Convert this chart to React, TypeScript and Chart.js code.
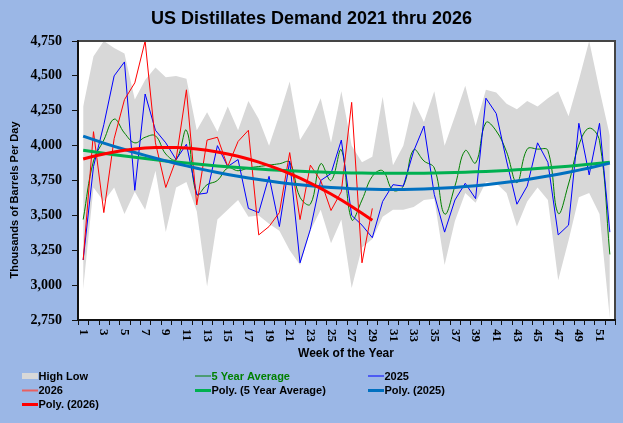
import React, { useEffect, useRef } from 'react';
import { Chart, registerables } from 'chart.js';

Chart.register(...registerables);

// Weeks of the year (category axis)
const WEEKS = [
  '1', '2', '3', '4', '5', '6', '7', '8', '9', '10', '11', '12', '13',
  '14', '15', '16', '17', '18', '19', '20', '21', '22', '23', '24', '25', '26',
  '27', '28', '29', '30', '31', '32', '33', '34', '35', '36', '37', '38', '39',
  '40', '41', '42', '43', '44', '45', '46', '47', '48', '49', '50', '51', '52',
];

// Labels shown under the axis (every other week)
const WEEK_TICK_LABELS = [
  '1', '3', '5', '7', '9', '11', '13', '15', '17', '19', '21', '23', '25',
  '27', '29', '31', '33', '35', '37', '39', '41', '43', '45', '47', '49', '51',
];

// Five-year range, thousands of barrels per day
const HIGH = [
  4280, 4640, 4750, 4700, 4660, 4330, 4470, 4560, 4490, 4500, 4480, 4110, 4240,
  4100, 4280, 4110, 4320, 4190, 4000, 4220, 4460, 4040, 4160, 4340, 4020, 4390,
  4000, 3880, 3920, 4350, 3860, 4000, 4320, 4170, 4390, 4000, 4210, 4430, 4140,
  4400, 4380, 4300, 4260, 4320, 4280, 4340, 4390, 4210, 4470, 4750, 4400, 4070,
];

const LOW = [
  2970, 3700, 3600, 3700, 3510, 3670, 3540, 3820, 3380, 3700, 3740, 3530, 2990,
  3470, 3540, 3610, 3490, 3500, 3440, 3390, 3250, 3145, 3390, 3540, 3300, 3470,
  2980, 3270, 3330, 3490, 3540, 3540, 3560, 3610, 3620, 3145, 3460, 3660, 3590,
  3740, 3730, 3660, 3420, 3600, 3700, 3610, 3035, 3320, 3630, 3660, 3510, 2760,
];

const AVG_5YR = [
  3470, 3890, 4040, 4190, 4090, 4020, 4060, 4070, 3940, 3900, 4110, 3650, 3720,
  3750, 3840, 3820, 3840, 3850, 3860, 3870, 3880, 3630, 3580, 3870, 3750, 3970,
  3470, 3610, 3780, 3820, 3680, 3710, 3970, 3890, 3840, 3510, 3710, 3965, 3875,
  4165, 4105, 3955, 3735, 3975, 3975, 3965, 3515, 3725, 4005, 4125, 4035, 3220,
];

const Y2025 = [
  3180, 3850, 4150, 4500, 4600, 3680, 4370, 4110, 4020, 3900, 4010, 3650, 3660,
  4000, 3850, 3900, 3550, 3520, 3780, 3420, 3890, 3160, 3400, 3750, 3800, 4040,
  3500, 3430, 3340, 3600, 3720, 3710, 3960, 4140, 3650, 3380, 3610, 3730, 3620,
  4340, 4230, 3890, 3580, 3710, 4020, 3880, 3360, 3430, 4160, 3790, 4160, 3380,
];

const Y2026 = [
  3180, 4100, 3520, 4050, 4330, 4450, 4750, 4020, 3700, 3900, 4400, 3575, 4040,
  4060, 3850, 4030, 4110, 3360, 3420, 3520, 3950, 3470, 3860, 3750, 3535, 3670,
  4310, 3160, 3550,
];

const Y_TICKS = [2750, 3000, 3250, 3500, 3750, 4000, 4250, 4500, 4750];

const SANS = '"Liberation Sans", Arial, sans-serif';
const SERIF = '"Liberation Serif", "Times New Roman", serif';

const BG_BLUE = '#9BB7E6';
const BAND_GRAY = '#D8D8D8';

// Second-order least-squares trendline over week number (1-based)
function polyTrend(values: (number | null)[]): (number | null)[] {
  let s0 = 0, s1 = 0, s2 = 0, s3 = 0, s4 = 0, t0 = 0, t1 = 0, t2 = 0;
  values.forEach((v, i) => {
    if (v == null) return;
    const x = i + 1;
    const x2 = x * x;
    s0 += 1; s1 += x; s2 += x2; s3 += x2 * x; s4 += x2 * x2;
    t0 += v; t1 += x * v; t2 += x2 * v;
  });
  const m = [
    [s4, s3, s2, t2],
    [s3, s2, s1, t1],
    [s2, s1, s0, t0],
  ];
  for (let c = 0; c < 3; c++) {
    for (let r = c + 1; r < 3; r++) {
      const f = m[r][c] / m[c][c];
      for (let k = c; k < 4; k++) m[r][k] -= f * m[c][k];
    }
  }
  const coef = [0, 0, 0];
  for (let r = 2; r >= 0; r--) {
    let s = m[r][3];
    for (let k = r + 1; k < 3; k++) s -= m[r][k] * coef[k];
    coef[r] = s / m[r][r];
  }
  const [a, b, c] = coef;
  return values.map((v, i) => (v == null ? null : a * (i + 1) * (i + 1) + b * (i + 1) + c));
}

type LegendEntry = { label: string; kind: 'box' | 'line'; color: string; width: number; textColor: string };

const LEGEND: LegendEntry[] = [
  { label: 'High Low', kind: 'box', color: BAND_GRAY, width: 0, textColor: '#000' },
  { label: '5 Year Average', kind: 'line', color: '#008000', width: 1, textColor: '#008000' },
  { label: '2025', kind: 'line', color: '#0000FF', width: 1, textColor: '#000' },
  { label: '2026', kind: 'line', color: '#E86060', width: 2, textColor: '#000' },
  { label: 'Poly. (5 Year Average)', kind: 'line', color: '#00B050', width: 3, textColor: '#000' },
  { label: 'Poly. (2025)', kind: 'line', color: '#0070C0', width: 3, textColor: '#000' },
  { label: 'Poly. (2026)', kind: 'line', color: '#FF0000', width: 3, textColor: '#000' },
];

const LEGEND_COLS = [22, 195, 368];
const LEGEND_ROWS = [376, 390.5, 404.5];

const decorPlugin = {
  id: 'decor',
  beforeDraw(chart: Chart) {
    const { ctx, width, height, chartArea } = chart;
    ctx.save();
    ctx.fillStyle = BG_BLUE;
    ctx.fillRect(0, 0, width, height);
    ctx.fillStyle = '#FFFFFF';
    ctx.fillRect(chartArea.left, chartArea.top, chartArea.right - chartArea.left, chartArea.bottom - chartArea.top);
    ctx.restore();
  },
  afterDraw(chart: Chart) {
    const { ctx, chartArea } = chart;
    const { left, right, top, bottom } = chartArea;
    const xScale = chart.scales.x;
    ctx.save();

    // plot frame
    ctx.lineWidth = 2;
    ctx.strokeStyle = '#454545';
    ctx.beginPath();
    ctx.moveTo(left, top);
    ctx.lineTo(right, top);
    ctx.lineTo(right, bottom);
    ctx.stroke();
    ctx.strokeStyle = '#111111';
    ctx.beginPath();
    ctx.moveTo(left, top - 1);
    ctx.lineTo(left, bottom);
    ctx.lineTo(right + 1, bottom);
    ctx.stroke();

    // category tick marks on the week axis
    ctx.lineWidth = 1;
    ctx.strokeStyle = '#111111';
    const n = WEEKS.length;
    const step = (right - left) / n;
    ctx.beginPath();
    for (let i = 0; i <= n; i++) {
      const x = Math.round(left + i * step) + 0.5;
      ctx.moveTo(x, bottom);
      ctx.lineTo(x, bottom + 5);
    }
    ctx.stroke();

    // week labels, turned 90 degrees
    ctx.fillStyle = '#000';
    ctx.font = `bold 13px ${SERIF}`;
    ctx.textAlign = 'left';
    ctx.textBaseline = 'middle';
    WEEK_TICK_LABELS.forEach((lbl) => {
      const idx = WEEKS.indexOf(lbl);
      const x = xScale.getPixelForValue(idx);
      ctx.save();
      ctx.translate(x, bottom + 9);
      ctx.rotate(Math.PI / 2);
      ctx.fillText(lbl, 0, 0);
      ctx.restore();
    });

    // axis titles
    ctx.font = `bold 12px ${SANS}`;
    ctx.textAlign = 'center';
    ctx.textBaseline = 'middle';
    ctx.fillText('Week of the Year', 346, 354);

    ctx.save();
    ctx.translate(15, 200);
    ctx.rotate(-Math.PI / 2);
    ctx.font = `bold 11px ${SANS}`;
    ctx.fillText('Thousands of Barrels Per Day', 0, 0);
    ctx.restore();

    // chart title
    ctx.font = `bold 18px ${SANS}`;
    ctx.textBaseline = 'alphabetic';
    ctx.fillText('US Distillates Demand 2021 thru 2026', 311.5, 24);

    // legend, three columns
    ctx.font = `bold 11px ${SANS}`;
    ctx.textAlign = 'left';
    ctx.textBaseline = 'middle';
    LEGEND.forEach((item, i) => {
      const x = LEGEND_COLS[i % 3];
      const y = LEGEND_ROWS[Math.floor(i / 3)];
      if (item.kind === 'box') {
        ctx.fillStyle = item.color;
        ctx.fillRect(x, y - 3, 16, 6);
      } else {
        ctx.strokeStyle = item.color;
        ctx.lineWidth = item.width;
        ctx.beginPath();
        ctx.moveTo(x, y);
        ctx.lineTo(x + 16, y);
        ctx.stroke();
      }
      ctx.fillStyle = item.textColor;
      ctx.fillText(item.label, x + 16.5, y + 0.5);
    });

    ctx.restore();
  },
};

export default function App() {
  const canvasRef = useRef<HTMLCanvasElement | null>(null);

  useEffect(() => {
    const canvas = canvasRef.current;
    if (!canvas) return;
    const lineBase = { pointRadius: 0, pointHoverRadius: 0, fill: false, tension: 0 };
    const chart = new Chart(canvas, {
      type: 'line',
      data: {
        labels: WEEKS,
        datasets: [
          { ...lineBase, label: 'High Low', data: HIGH, borderWidth: 0, borderColor: 'rgba(0,0,0,0)', backgroundColor: BAND_GRAY, fill: '+1', order: 10 },
          { ...lineBase, label: 'Low', data: LOW, borderWidth: 0, borderColor: 'rgba(0,0,0,0)', order: 11 },
          { ...lineBase, label: '5 Year Average', data: AVG_5YR, borderColor: '#008000', borderWidth: 1, tension: 0.4, order: 6 },
          { ...lineBase, label: '2025', data: Y2025, borderColor: '#0000FF', borderWidth: 1, order: 5 },
          { ...lineBase, label: '2026', data: Y2026, borderColor: '#FF0000', borderWidth: 1, order: 4 },
          { ...lineBase, label: 'Poly. (5 Year Average)', data: polyTrend(AVG_5YR), borderColor: '#00B050', borderWidth: 3, order: 3 },
          { ...lineBase, label: 'Poly. (2025)', data: polyTrend(Y2025), borderColor: '#0070C0', borderWidth: 3, order: 2 },
          { ...lineBase, label: 'Poly. (2026)', data: polyTrend(Y2026), borderColor: '#FF0000', borderWidth: 3, order: 1 },
        ],
      },
      options: {
        responsive: false,
        animation: false,
        devicePixelRatio: 1,
        events: [],
        layout: { padding: { top: 41, right: 8, bottom: 0, left: 0 } },
        plugins: {
          legend: { display: false },
          title: { display: false },
          tooltip: { enabled: false },
        },
        scales: {
          x: {
            type: 'category',
            offset: true,
            grid: { display: false },
            border: { display: false },
            ticks: { display: false },
            afterFit: (s: any) => { s.height = 103; },
          },
          y: {
            min: 2750,
            max: 4750,
            afterBuildTicks: (s: any) => { s.ticks = Y_TICKS.map((v) => ({ value: v })); },
            ticks: {
              color: '#000',
              padding: 10,
              font: { family: SERIF, size: 14, weight: 'bold' },
              callback: (v: any) => Number(v).toLocaleString('en-US'),
            },
            grid: { drawOnChartArea: false, drawTicks: true, tickLength: 6, color: '#111', lineWidth: 1 },
            border: { display: false },
            afterFit: (s: any) => { s.width = 78; },
          },
        },
      },
      plugins: [decorPlugin],
    } as any);
    return () => chart.destroy();
  }, []);

  return (
    <div style={{ position: 'absolute', left: 0, top: 0, width: 623, height: 423, background: BG_BLUE }}>
      <canvas ref={canvasRef} width={623} height={423} style={{ display: 'block' }} />
    </div>
  );
}
